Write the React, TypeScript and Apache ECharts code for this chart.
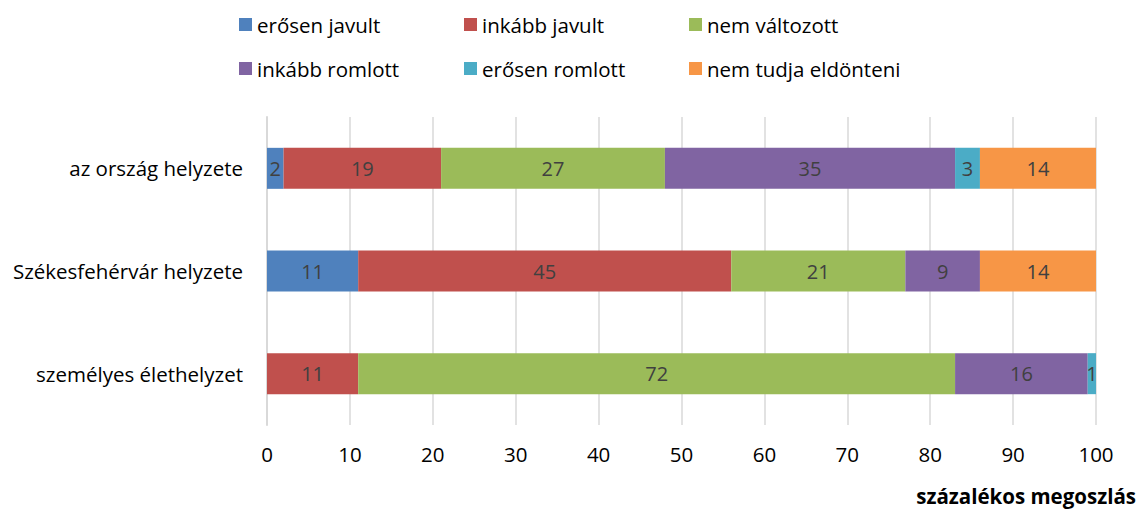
import React, { useEffect, useRef } from "react";
import * as echarts from "echarts";

const categories = ["az ország helyzete", "Székesfehérvár helyzete", "személyes élethelyzet"];
const seriesNames = ["erősen javult", "inkább javult", "nem változott", "inkább romlott", "erősen romlott", "nem tudja eldönteni"];
const colors = ["#4F81BD", "#C0504D", "#9BBB59", "#8064A2", "#4BACC6", "#F79646"];
const erosenJavult = [2, 11, 0];
const inkabbJavult = [19, 45, 11];
const nemValtozott = [27, 21, 72];
const inkabbRomlott = [35, 9, 16];
const erosenRomlott = [3, 0, 1];
const nemTudja = [14, 14, 0];
const values = [erosenJavult, inkabbJavult, nemValtozott, inkabbRomlott, erosenRomlott, nemTudja];
const xTicks = [0, 100, 10];
const axisTitle = "százalékos megoszlás";

const FONT = "'Open Sans', 'Noto Sans', sans-serif";

export default function App() {
  const ref = useRef<HTMLDivElement>(null);
  useEffect(() => {
    if (!ref.current) return;
    const chart = echarts.init(ref.current, undefined, { renderer: "svg" });
    const legendPos = [
      [239, 14], [464, 14], [689, 14],
      [239, 58], [464, 58], [689, 58],
    ];
    chart.setOption({
      animation: false,
      color: colors,
      textStyle: { fontFamily: FONT },
      legend: seriesNames.map((n, i) => ({
        data: [n],
        left: legendPos[i][0],
        top: legendPos[i][1],
        padding: 0,
        icon: "rect",
        itemWidth: 13,
        itemHeight: 13,
        itemGap: 0,
        textStyle: { fontSize: 20.5, color: "#000", fontFamily: FONT },
      })),
      grid: { left: 267, right: 40, top: 117, bottom: 88, containLabel: false },
      xAxis: {
        type: "value",
        min: xTicks[0],
        max: xTicks[1],
        interval: xTicks[2],
        axisLine: { show: false },
        axisTick: { show: false },
        splitLine: { lineStyle: { color: "#d9d9d9", width: 1.5 } },
        axisLabel: { fontSize: 20.5, color: "#000", margin: 18, fontFamily: FONT },
      },
      yAxis: {
        type: "category",
        data: categories,
        inverse: true,
        axisLine: { lineStyle: { color: "#d9d9d9", width: 2 } },
        axisTick: { show: false },
        axisLabel: { fontSize: 20.5, color: "#000", margin: 24, fontFamily: FONT },
      },
      series: seriesNames.map((n, i) => ({
        name: n,
        type: "bar",
        stack: "total",
        barWidth: 41,
        data: values[i],
        label: {
          show: true,
          position: "inside",
          color: "#404040",
          fontSize: 20,
          fontFamily: FONT,
          formatter: (p: any) => (p.value ? String(p.value) : ""),
        },
      })),
      graphic: [
        {
          type: "text",
          right: 0,
          top: 485,
          style: {
            text: axisTitle,
            font: `bold 20.5px ${FONT}`,
            fill: "#000",
          },
        },
      ],
    });
    return () => chart.dispose();
  }, []);
  return (
    <div
      ref={ref}
      style={{ position: "absolute", left: 0, top: 0, width: 1136, height: 513 }}
    />
  );
}
